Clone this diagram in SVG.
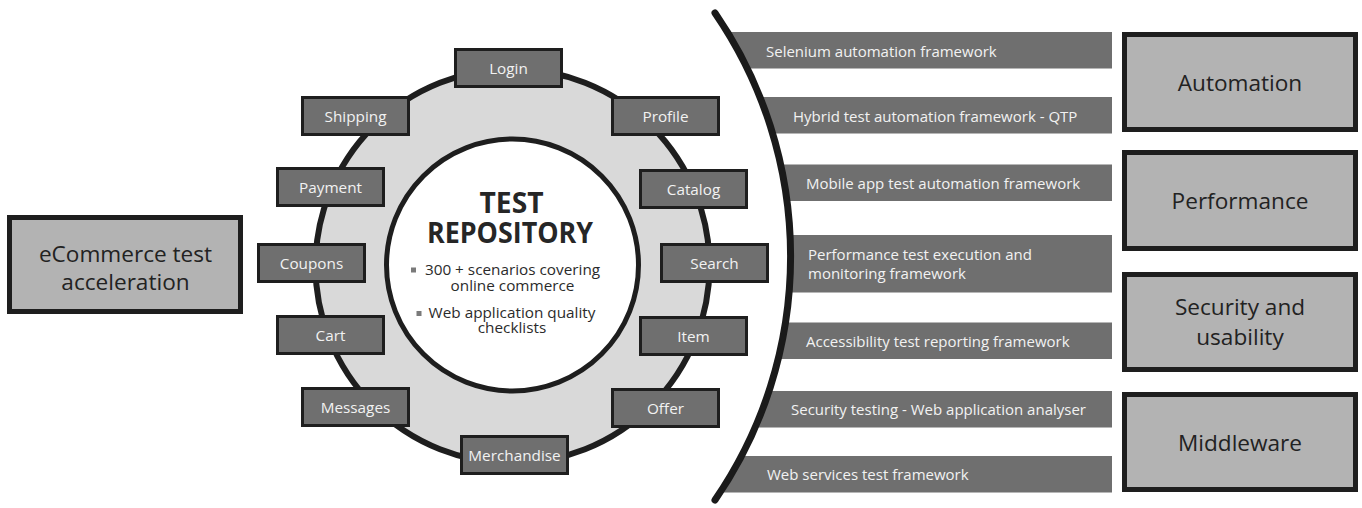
<svg xmlns="http://www.w3.org/2000/svg" width="1362" height="508" viewBox="0 0 1362 508">
<style>
.sb{fill:#6f6f6f;stroke:#1e1e1e;stroke-width:3}
.sbt{font-family:"Open Sans","DejaVu Sans",sans-serif;font-size:15.3px;fill:#f2f2f2;text-anchor:middle}
.big{fill:#b3b3b3;stroke:#1e1e1e;stroke-width:5}
.bigt{font-family:"Open Sans","DejaVu Sans",sans-serif;font-size:22.6px;fill:#222;text-anchor:middle}
.bar{fill:#6f6f6f}
.bart{font-family:"Open Sans","DejaVu Sans",sans-serif;font-size:15px;fill:#f2f2f2}
.ct{font-family:"Open Sans","DejaVu Sans",sans-serif;font-size:15.3px;fill:#2b2b2b;text-anchor:middle}
.hd{font-family:"Open Sans","DejaVu Sans",sans-serif;font-size:29px;font-weight:bold;fill:#262626;text-anchor:middle}
.bul{fill:#7a7a7a}
</style>
<defs>
<clipPath id="rightOfArc">
<path clip-rule="evenodd" d="M700 0 H1120 V508 H700 Z M790.6 256.5 A430 430 0 1 1 -69.4 256.5 A430 430 0 1 1 790.6 256.5 Z"/>
</clipPath>
</defs>
<rect width="1362" height="508" fill="#ffffff"/>

<g id="left-node">
<rect class="big" x="9.5" y="217.5" width="231" height="94"/>
<text class="bigt" x="125.5" y="261.5">eCommerce test</text>
<text class="bigt" x="125.5" y="290">acceleration</text>
</g>

<g id="ring">
<circle cx="512.5" cy="266" r="197" fill="#d9d9d9" stroke="#1e1e1e" stroke-width="6"/>
</g>

<g id="test-repository">
<circle cx="512.5" cy="265" r="126" fill="#ffffff" stroke="#1e1e1e" stroke-width="5"/>
<text class="hd" x="511.5" y="213" textLength="64" lengthAdjust="spacingAndGlyphs">TEST</text>
<text class="hd" x="510" y="243" textLength="166" lengthAdjust="spacingAndGlyphs">REPOSITORY</text>
<rect class="bul" x="411" y="267.5" width="5" height="5"/>
<text class="ct" x="512.5" y="275">300 + scenarios covering</text>
<text class="ct" x="512.5" y="290.5">online commerce</text>
<rect class="bul" x="416.5" y="311" width="5" height="5"/>
<text class="ct" x="512" y="317.5">Web application quality</text>
<text class="ct" x="512" y="332.5">checklists</text>
</g>

<g id="login"><rect class="sb" x="455.5" y="49.5" width="106" height="37"/><text class="sbt" x="508.5" y="73.5">Login</text></g>
<g id="shipping"><rect class="sb" x="302.5" y="97.5" width="106" height="37"/><text class="sbt" x="355.5" y="121.5">Shipping</text></g>
<g id="profile"><rect class="sb" x="612.5" y="97.5" width="106" height="37"/><text class="sbt" x="665.5" y="121.5">Profile</text></g>
<g id="payment"><rect class="sb" x="277.5" y="168.5" width="106" height="37"/><text class="sbt" x="330.5" y="192.5">Payment</text></g>
<g id="catalog"><rect class="sb" x="640.5" y="170.5" width="106" height="37"/><text class="sbt" x="693.5" y="194.5">Catalog</text></g>
<g id="coupons"><rect class="sb" x="258.5" y="244.5" width="106" height="37"/><text class="sbt" x="311.5" y="268.5">Coupons</text></g>
<g id="search"><rect class="sb" x="661.5" y="244.5" width="106" height="37"/><text class="sbt" x="714.5" y="268.5">Search</text></g>
<g id="cart"><rect class="sb" x="277.5" y="316.5" width="106" height="37"/><text class="sbt" x="330.5" y="340.5">Cart</text></g>
<g id="item"><rect class="sb" x="640.5" y="317.5" width="106" height="37"/><text class="sbt" x="693.5" y="341.5">Item</text></g>
<g id="messages"><rect class="sb" x="302.5" y="388.5" width="106" height="37"/><text class="sbt" x="355.5" y="412.5">Messages</text></g>
<g id="offer"><rect class="sb" x="612.5" y="389.5" width="106" height="37"/><text class="sbt" x="665.5" y="413.5">Offer</text></g>
<g id="merchandise"><rect class="sb" x="461.5" y="436.5" width="106" height="37"/><text class="sbt" x="514.5" y="460.5">Merchandise</text></g>

<g id="frameworks">
<g clip-path="url(#rightOfArc)">
<rect class="bar" x="700" y="32" width="412" height="36.5"/>
<rect class="bar" x="700" y="97" width="412" height="36.5"/>
<rect class="bar" x="700" y="164.5" width="412" height="36.5"/>
<rect class="bar" x="700" y="235" width="412" height="57.5"/>
<rect class="bar" x="700" y="322.5" width="412" height="36.5"/>
<rect class="bar" x="700" y="391" width="412" height="36.5"/>
<rect class="bar" x="700" y="456" width="412" height="36.5"/>
</g>
<text class="bart" x="766" y="56.5">Selenium automation framework</text>
<text class="bart" x="793" y="121.5">Hybrid test automation framework - QTP</text>
<text class="bart" x="806" y="188.5">Mobile app test automation framework</text>
<text class="bart" x="808" y="259.5">Performance test execution and</text>
<text class="bart" x="808" y="278.5">monitoring framework</text>
<text class="bart" x="806" y="346.5">Accessibility test reporting framework</text>
<text class="bart" x="791" y="414.5">Security testing - Web application analyser</text>
<text class="bart" x="767" y="479.5">Web services test framework</text>
</g>

<g id="connectors">
<path d="M715 13 A430 430 0 0 1 715 500" fill="none" stroke="#1a1a1a" stroke-width="7" stroke-linecap="round"/>
</g>

<g id="automation"><rect class="big" x="1124.5" y="34.5" width="231" height="95"/><text class="bigt" x="1240" y="90.5">Automation</text></g>
<g id="performance"><rect class="big" x="1124.5" y="152.5" width="231" height="96"/><text class="bigt" x="1240" y="209">Performance</text></g>
<g id="security"><rect class="big" x="1124.5" y="274.5" width="231" height="95"/><text class="bigt" x="1240" y="315">Security and</text><text class="bigt" x="1240" y="345">usability</text></g>
<g id="middleware"><rect class="big" x="1124.5" y="394.5" width="231" height="95"/><text class="bigt" x="1240" y="451">Middleware</text></g>
</svg>
